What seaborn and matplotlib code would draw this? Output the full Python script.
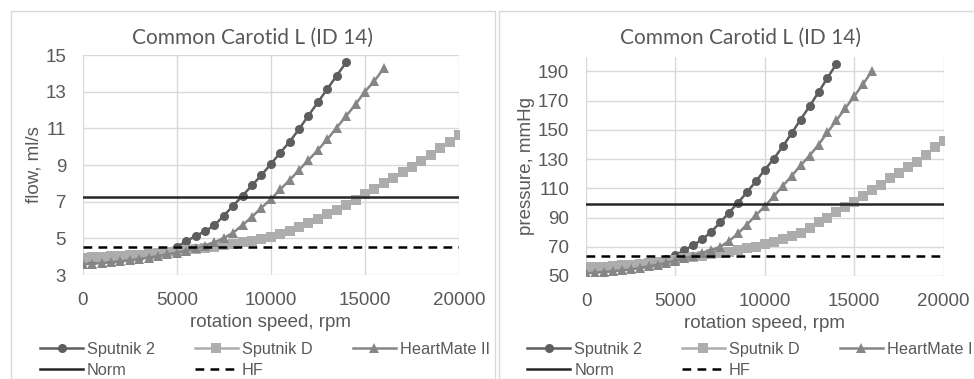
import numpy as np
import matplotlib
matplotlib.use("Agg")
import matplotlib.pyplot as plt
import seaborn as sns
import pandas as pd
from matplotlib.patches import Rectangle

# rotation speed, rpm (every 500 rpm)
rpm_s2 = list(range(0, 14001, 500))
rpm_sd = list(range(0, 20001, 500))
rpm_hm = list(range(0, 16001, 500))

# flow, ml/s
flow_s2 = [3.75, 3.77, 3.80, 3.84, 3.88, 3.93, 3.99, 4.06, 4.15, 4.30, 4.53,
           4.84, 5.13, 5.38, 5.71, 6.24, 6.78, 7.33, 7.89, 8.45, 9.05, 9.67,
           10.27, 10.96, 11.70, 12.42, 13.15, 13.87, 14.60]
flow_sd = [3.95, 3.96, 3.98, 4.02, 4.04, 4.07, 4.11, 4.15, 4.18, 4.24, 4.29,
           4.35, 4.40, 4.47, 4.55, 4.62, 4.69, 4.78, 4.87, 4.98, 5.09, 5.24,
           5.40, 5.60, 5.82, 6.05, 6.31, 6.56, 6.84, 7.09, 7.42, 7.71, 8.00,
           8.31, 8.60, 8.91, 9.22, 9.55, 9.91, 10.27, 10.64]
flow_hm = [3.58, 3.62, 3.65, 3.69, 3.75, 3.80, 3.87, 3.95, 4.04, 4.13, 4.22,
           4.33, 4.45, 4.60, 4.78, 5.02, 5.31, 5.73, 6.18, 6.67, 7.13, 7.67,
           8.18, 8.73, 9.27, 9.82, 10.40, 11.04, 11.67, 12.31, 13.00, 13.58,
           14.27]
flow_norm = 7.27
flow_hf = 4.51

# pressure, mmHg
pres_s2 = [55.0, 55.3, 55.7, 56.1, 56.6, 57.2, 58.0, 59.0, 60.2, 61.8, 64.1,
           67.7, 71.1, 75.0, 80.2, 86.6, 93.4, 100.2, 107.3, 114.8, 122.7,
           130.2, 138.6, 147.7, 157.0, 166.1, 175.7, 185.5, 195.0]
pres_sd = [55.9, 56.1, 56.4, 56.8, 57.3, 57.7, 58.4, 58.9, 59.5, 60.5, 61.1,
           62.0, 63.0, 63.9, 64.8, 65.7, 66.6, 67.7, 68.9, 70.0, 71.6, 73.0,
           75.0, 77.3, 79.5, 82.5, 86.6, 90.0, 93.6, 97.3, 100.9, 104.5,
           108.6, 112.5, 117.0, 120.7, 124.5, 128.0, 132.5, 138.2, 142.3]
pres_hm = [51.8, 52.3, 52.7, 53.2, 53.9, 54.5, 55.5, 56.6, 57.7, 59.1, 60.5,
           62.0, 63.9, 65.9, 67.7, 70.0, 73.9, 79.1, 85.2, 91.6, 97.7, 104.5,
           111.6, 118.4, 125.7, 132.3, 139.8, 148.2, 156.4, 164.8, 173.0,
           181.4, 190.5]
pres_norm = 99.5
pres_hf = 63.6

title = "Common Carotid L (ID 14)"
xlabel = "rotation speed, rpm"

plt.rcParams['font.family'] = ['Liberation Sans', 'DejaVu Sans']
TXT = "#595959"
GRID = "#D9D9D9"

fig = plt.figure(figsize=(9.74, 3.79), dpi=100)
W, H = 974.0, 379.0

# chart area frames like Excel
fig.patches.append(Rectangle((10.5 / W, 0), (495 - 10.5) / W, 1 - 10.5 / H,
                             transform=fig.transFigure, fill=False,
                             edgecolor=GRID, lw=1))
fig.patches.append(Rectangle((498.5 / W, 0), 1, 1 - 10.5 / H,
                             transform=fig.transFigure, fill=False,
                             edgecolor=GRID, lw=1))

ax1 = fig.add_axes([82.7 / W, 1 - 275 / H, (459 - 82.7) / W, 220 / H])
ax2 = fig.add_axes([586 / W, 1 - 276 / H, (943.7 - 586) / W, 219.3 / H])


def draw(ax, s2, sd, hm, norm, hf, ylim, yticks, ylabel, legx, titx):
    # Excel series order: Sputnik 2 at the bottom, HeartMate II on top
    sns.lineplot(x=rpm_s2, y=s2, ax=ax, color="#5E5E5E", marker="o",
                 markersize=6.5, markeredgewidth=0, lw=1.8, label="Sputnik 2",
                 zorder=3)
    sns.lineplot(x=rpm_sd, y=sd, ax=ax, color="#ADADAD", marker="s",
                 markersize=6.5, markeredgewidth=0, lw=1.8, label="Sputnik D",
                 zorder=4)
    sns.lineplot(x=rpm_hm, y=hm, ax=ax, color="#868686", marker="^",
                 markersize=7, markeredgewidth=0, lw=1.8, label="HeartMate II",
                 zorder=5)
    ax.axhline(norm, color="#262626", lw=1.8, label="Norm", zorder=6)
    ax.axhline(hf, color="black", lw=1.8, ls=(0, (3.5, 2.5)), label="HF",
               zorder=6)
    ax.set_xlim(0, 20000)
    ax.set_ylim(*ylim)
    ax.set_xticks([0, 5000, 10000, 15000, 20000])
    ax.set_yticks(yticks)
    ax.grid(True, color=GRID, lw=1)
    ax.set_axisbelow(True)
    for sp in ax.spines.values():
        sp.set_visible(False)
    ax.tick_params(length=0, labelsize=13.5, labelcolor=TXT, pad=12)
    # title is centred on the whole chart area, as Excel does
    fig.text(titx / W, 1 - 38 / H, title, fontsize=15, color=TXT,
             family=['Lato', 'DejaVu Sans'], ha="center", va="center")
    ax.set_xlabel(xlabel, fontsize=13.5, color=TXT, labelpad=4)
    ax.set_ylabel(ylabel, fontsize=13.5, color=TXT, labelpad=2)
    hd, lb = ax.get_legend_handles_labels()
    d = dict(zip(lb, hd))
    order = ["Sputnik 2", "Norm", "Sputnik D", "HF", "HeartMate II"]
    ax.legend([d[k] for k in order], order, ncol=3, loc="upper left",
              bbox_to_anchor=(legx / W, 1 - 342 / H),
              bbox_transform=fig.transFigure, frameon=False, fontsize=11.7,
              labelcolor=TXT, handlelength=2.65, handletextpad=0.25,
              columnspacing=2.45, borderpad=0, borderaxespad=0,
              labelspacing=0.35)


draw(ax1, flow_s2, flow_sd, flow_hm, flow_norm, flow_hf, (3, 15),
     list(range(3, 16, 2)), "flow, ml/s", 40, 253)
draw(ax2, pres_s2, pres_sd, pres_hm, pres_norm, pres_hf, (50, 200),
     list(range(50, 191, 20)), "pressure, mmHg", 527, 740)

fig.savefig("out.png", dpi=100)
